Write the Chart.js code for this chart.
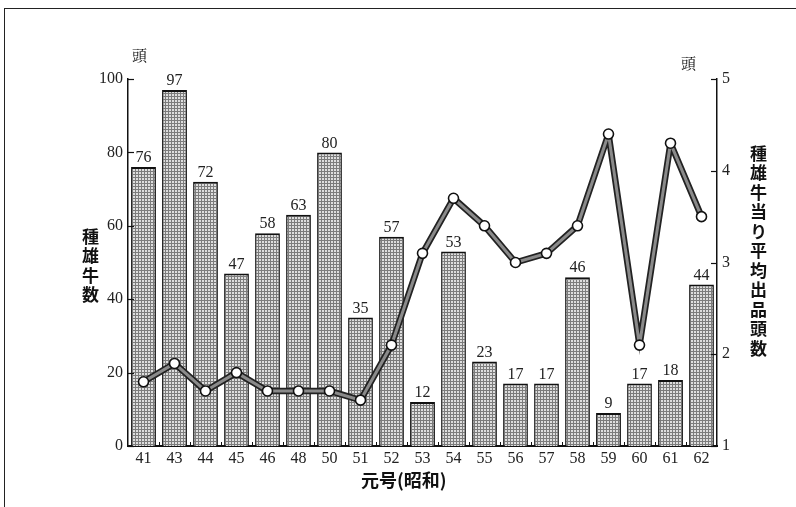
<!DOCTYPE html>
<html><head><meta charset="utf-8">
<script src="https://cdn.jsdelivr.net/npm/chart.js@4/dist/chart.umd.min.js"></script>
<style>
html,body{margin:0;padding:0;background:#fff;}
#wrap{position:relative;width:796px;height:507px;overflow:hidden;}
#frame{position:absolute;left:4px;top:8px;width:800px;height:520px;border-left:1.5px solid #222;border-top:1.5px solid #222;}
canvas{position:absolute;left:0;top:0;}
.t{position:absolute;font-family:"Noto Sans CJK JP";color:#111;}
.v{writing-mode:vertical-rl;text-orientation:upright;font-weight:bold;font-size:17px;line-height:18px;letter-spacing:2.5px;}
.u{font-family:"Noto Serif CJK JP","Noto Sans CJK JP";font-size:15px;}
</style></head>
<body><div id="wrap"><div id="frame"></div><canvas id="c" width="796" height="507"></canvas>
<div class="t u" style="left:132px;top:44px;">頭</div>
<div class="t u" style="left:681px;top:52px;">頭</div>
<div class="t v" style="left:81px;top:228px;">種雄牛数</div>
<div class="t v" style="left:749px;top:145px;">種雄牛当り平均出品頭数</div>
<div class="t" style="left:361px;top:466px;font-size:18px;font-weight:bold;">元号(昭和)</div>
</div>
<script>
const years = ['41','43','44','45','46','48','50','51','52','53','54','55','56','57','58','59','60','61','62'];
const bullCount = [76,97,72,47,58,63,80,35,57,12,53,23,17,17,46,9,17,18,44];
const avgPerBull = [1.7,1.9,1.6,1.8,1.6,1.6,1.6,1.5,2.1,3.1,3.7,3.4,3.0,3.1,3.4,4.4,2.1,4.3,3.5];
const leftTicks = [0,20,40,60,80,100];
const rightTicks = [1,2,3,4,5];

function makePattern(){
  const p=document.createElement('canvas');p.width=3;p.height=3;
  const g=p.getContext('2d');
  g.fillStyle='#dedede';g.fillRect(0,0,3,3);
  g.fillStyle='#7c7c7c';g.fillRect(0,0,3,1);g.fillRect(0,0,1,3);
  return g.createPattern(p,'repeat');
}
const ctx=document.getElementById('c').getContext('2d');
const pat=makePattern();
const serif='"Liberation Serif", "DejaVu Serif", serif';

const extras={
  id:'extras',
  beforeDatasetDraw(chart,args){
    if(args.index!==1) return;
    const c=chart.ctx, pts=args.meta.data;
    c.save();c.strokeStyle='#222';c.lineWidth=6.5;c.lineJoin='round';
    c.beginPath();pts.forEach((p,i)=>{i?c.lineTo(p.x,p.y):c.moveTo(p.x,p.y);});c.stroke();
    c.restore();
  },
  afterDatasetsDraw(chart){
    const c=chart.ctx;
    const meta=chart.getDatasetMeta(0);
    c.save();
    c.font='16px '+serif;c.fillStyle='#222';c.textAlign='center';c.textBaseline='bottom';
    meta.data.forEach((b,i)=>{c.fillText(String(bullCount[i]),b.x,b.y-1);});
    c.restore();
  },
  afterDraw(chart){
    const c=chart.ctx, yL=chart.scales.y, yR=chart.scales.y1, x=chart.scales.x;
    c.save();c.strokeStyle='#111';c.lineWidth=1.2;
    leftTicks.forEach(v=>{const py=Math.round(yL.getPixelForValue(v))+0.5;c.beginPath();c.moveTo(yL.right,py);c.lineTo(yL.right+6,py);c.stroke();});
    rightTicks.forEach(v=>{const py=Math.round(yR.getPixelForValue(v))+0.5;c.beginPath();c.moveTo(yR.left,py);c.lineTo(yR.left-6,py);c.stroke();});
    c.lineWidth=1;
    for(let i=1;i<years.length;i++){
      const px=Math.round((x.getPixelForValue(i-1)+x.getPixelForValue(i))/2)+0.5;
      c.beginPath();c.moveTo(px,x.top);c.lineTo(px,x.top-4);c.stroke();
    }
    c.restore();
  }
};

new Chart(ctx,{
  data:{labels:years,datasets:[
    {type:'bar',data:bullCount,yAxisID:'y',backgroundColor:pat,borderColor:'#111',borderWidth:{top:2,left:1.5,right:1.5,bottom:0},borderSkipped:false,barPercentage:0.8,categoryPercentage:1,order:2},
    {type:'line',data:avgPerBull,yAxisID:'y1',borderColor:'#8a8a8a',borderWidth:3,pointRadius:5,pointBorderWidth:1.6,pointBackgroundColor:'#fff',pointBorderColor:'#111',tension:0,order:1}
  ]},
  options:{
    responsive:false,animation:false,
    layout:{padding:{left:0,right:0,top:79,bottom:0}},
    plugins:{legend:{display:false},tooltip:{enabled:false}},
    scales:{
      x:{grid:{display:false,drawTicks:false},border:{color:'#111',width:2},
         ticks:{font:{family:serif,size:16},color:'#222',padding:3,maxRotation:0,autoSkip:false},
         afterFit(s){s.height=61;}},
      y:{position:'left',min:0,max:100,grid:{display:false,drawTicks:false},border:{color:'#111',width:1.5},
         ticks:{stepSize:20,font:{family:serif,size:16},color:'#222',padding:5},
         afterFit(s){s.width=128;}},
      y1:{position:'right',min:1,max:5,grid:{display:false,drawTicks:false},border:{color:'#111',width:1.5},
         ticks:{stepSize:1,font:{family:serif,size:16},color:'#222',padding:5},
         afterFit(s){s.width=79;}}
    }
  },
  plugins:[extras]
});
</script></body></html>
